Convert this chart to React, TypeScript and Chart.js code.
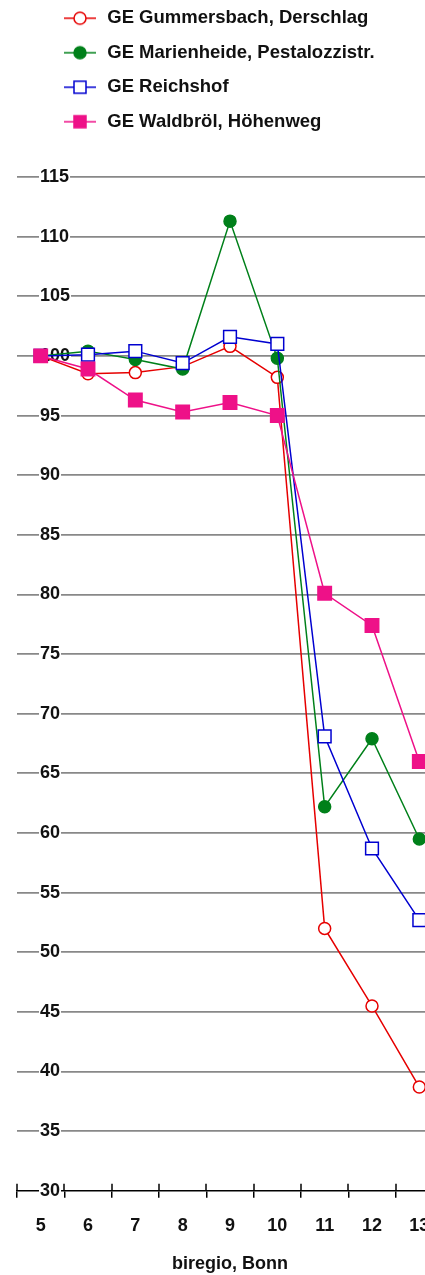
import React, { useEffect, useRef } from 'react';
import { Chart, registerables } from 'chart.js';

Chart.register(...registerables);

// ---- data ----
const categories = ['5', '6', '7', '8', '9', '10', '11', '12', '13'];
const seriesNames = [
  'GE Gummersbach, Derschlag',
  'GE Marienheide, Pestalozzistr.',
  'GE Reichshof',
  'GE Waldbröl, Höhenweg',
];
const gummersbach = [100, 98.5, 98.6, 99.1, 100.8, 98.2, 52.0, 45.5, 38.7];
const marienheide = [100, 100.4, 99.7, 98.9, 111.3, 99.8, 62.2, 67.9, 59.5];
const reichshof = [100, 100.1, 100.4, 99.4, 101.6, 101.0, 68.1, 58.7, 52.7];
const waldbroel = [100, 98.9, 96.3, 95.3, 96.1, 95.0, 80.1, 77.4, 66.0];
const yMin = 30;
const yMax = 115;
const yStep = 5;
const xTitle = 'biregio, Bonn';

// ---- styles ----
const FONT_FAMILY = "'Liberation Sans', Arial, Helvetica, sans-serif";
const TEXT_COLOR = '#111';
const seriesStyles = [
  { color: '#e60000', pointStyle: 'circle', filled: false, radius: 6 },
  { color: '#00801a', pointStyle: 'circle', filled: true, radius: 6 },
  { color: '#0000d0', pointStyle: 'rect', filled: false, radius: 9 },
  { color: '#ee1188', pointStyle: 'rect', filled: true, radius: 9.5 },
];
const seriesValues = [gummersbach, marienheide, reichshof, waldbroel];

function makeLegendMarker(color: string, style: string, filled: boolean) {
  const c = document.createElement('canvas');
  c.width = 34;
  c.height = 18;
  const g = c.getContext('2d')!;
  g.strokeStyle = color;
  g.lineWidth = 1.5;
  g.beginPath();
  g.moveTo(1, 9);
  g.lineTo(33, 9);
  g.stroke();
  g.fillStyle = filled ? color : '#ffffff';
  g.beginPath();
  if (style === 'circle') {
    g.arc(17, 9, 6, 0, Math.PI * 2);
  } else {
    g.rect(11, 3, 12, 12);
  }
  g.fill();
  g.stroke();
  return c;
}

export default function App() {
  const ref = useRef<HTMLCanvasElement | null>(null);

  useEffect(() => {
    if (!ref.current) return;
    const markers = seriesStyles.map((s) => makeLegendMarker(s.color, s.pointStyle, s.filled));

    const upperTicks = {
      id: 'upperTicks',
      beforeDatasetsDraw(chart: any) {
        const xs = chart.scales.x;
        const ctx = chart.ctx;
        const y = chart.chartArea.bottom;
        const step = xs.getPixelForValue(1) - xs.getPixelForValue(0);
        ctx.save();
        ctx.strokeStyle = '#000';
        ctx.lineWidth = 1.5;
        for (let i = 0; i <= categories.length; i++) {
          const px = Math.round(xs.getPixelForValue(i) - step / 2);
          ctx.beginPath();
          ctx.moveTo(px, y - 7);
          ctx.lineTo(px, y);
          ctx.stroke();
        }
        ctx.restore();
      },
    };

    const shiftLegend = {
      id: 'shiftLegend',
      afterLayout(chart: any) {
        if (chart.legend) chart.legend.left = 46;
      },
    };

    const chart = new Chart(ref.current, {
      type: 'line',
      data: {
        labels: categories,
        datasets: seriesValues.map((vals, i) => ({
          label: seriesNames[i],
          data: vals,
          borderColor: seriesStyles[i].color,
          backgroundColor: seriesStyles[i].filled ? seriesStyles[i].color : '#ffffff',
          pointBackgroundColor: seriesStyles[i].filled ? seriesStyles[i].color : '#ffffff',
          pointBorderColor: seriesStyles[i].color,
          pointStyle: seriesStyles[i].pointStyle as any,
          pointRadius: seriesStyles[i].radius,
          pointBorderWidth: 1.5,
          borderWidth: 1.5,
          tension: 0,
          fill: false,
          order: seriesValues.length - 1 - i,
        })),
      },
      options: {
        animation: false,
        responsive: false,
        events: [],
        layout: { padding: { left: 17, right: 3, top: 0, bottom: 0 } },
        plugins: {
          tooltip: { enabled: false },
          title: {
            display: true,
            text: '',
            weight: 500,
            font: { size: 10, lineHeight: 1 },
            padding: { top: 0, bottom: 26 },
          } as any,
          legend: {
            display: true,
            position: 'top',
            align: 'start',
            labels: {
              usePointStyle: true,
              pointStyleWidth: 36,
              padding: 16,
              color: TEXT_COLOR,
              font: { family: FONT_FAMILY, size: 18.5, weight: 'bold' },
              generateLabels: (ch: any) =>
                ch.data.datasets.map((ds: any, i: number) => ({
                  text: ds.label,
                  fillStyle: seriesStyles[i].color,
                  strokeStyle: seriesStyles[i].color,
                  pointStyle: markers[i],
                  lineWidth: 0,
                  hidden: false,
                  datasetIndex: i,
                  fontColor: TEXT_COLOR,
                })),
            },
          },
        },
        scales: {
          x: {
            type: 'category',
            offset: true,
            grid: {
              offset: true,
              drawOnChartArea: false,
              drawTicks: true,
              tickLength: 7,
              color: '#000',
              lineWidth: 1.5,
            },
            border: { display: true, color: '#000', width: 1.5, z: -1 },
            ticks: {
              color: TEXT_COLOR,
              padding: 17,
              maxRotation: 0,
              autoSkip: false,
              font: { family: FONT_FAMILY, size: 18, weight: 'bold' },
            },
            title: {
              display: true,
              text: xTitle,
              color: TEXT_COLOR,
              padding: { top: 0, bottom: 1 },
              font: { family: FONT_FAMILY, size: 18, weight: 'bold' },
            },
          },
          y: {
            min: yMin,
            max: yMax,
            afterFit: (scale: any) => {
              scale.width = 0;
            },
            grid: {
              drawTicks: false,
              color: (c: any) => (c.tick && c.tick.value === yMin ? 'rgba(0,0,0,0)' : '#888888'),
              lineWidth: 1.75,
            },
            border: { display: false },
            ticks: {
              stepSize: yStep,
              mirror: true,
              padding: 23,
              color: TEXT_COLOR,
              showLabelBackdrop: true,
              backdropColor: '#ffffff',
              backdropPadding: { x: 1, y: 0, top: 0, bottom: 0, left: 1, right: 1 } as any,
              font: { family: FONT_FAMILY, size: 18, weight: 'bold' },
            },
          },
        },
      },
      plugins: [upperTicks, shiftLegend],
    });
    return () => chart.destroy();
  }, []);

  return (
    <div
      style={{
        position: 'absolute',
        left: 0,
        top: 0,
        width: 425,
        height: 1275,
        overflow: 'hidden',
        background: '#fff',
      }}
    >
      <canvas
        ref={ref}
        width={454}
        height={1283}
        style={{ position: 'absolute', left: 0, top: -7, width: 454, height: 1283, display: 'block' }}
      />
    </div>
  );
}
